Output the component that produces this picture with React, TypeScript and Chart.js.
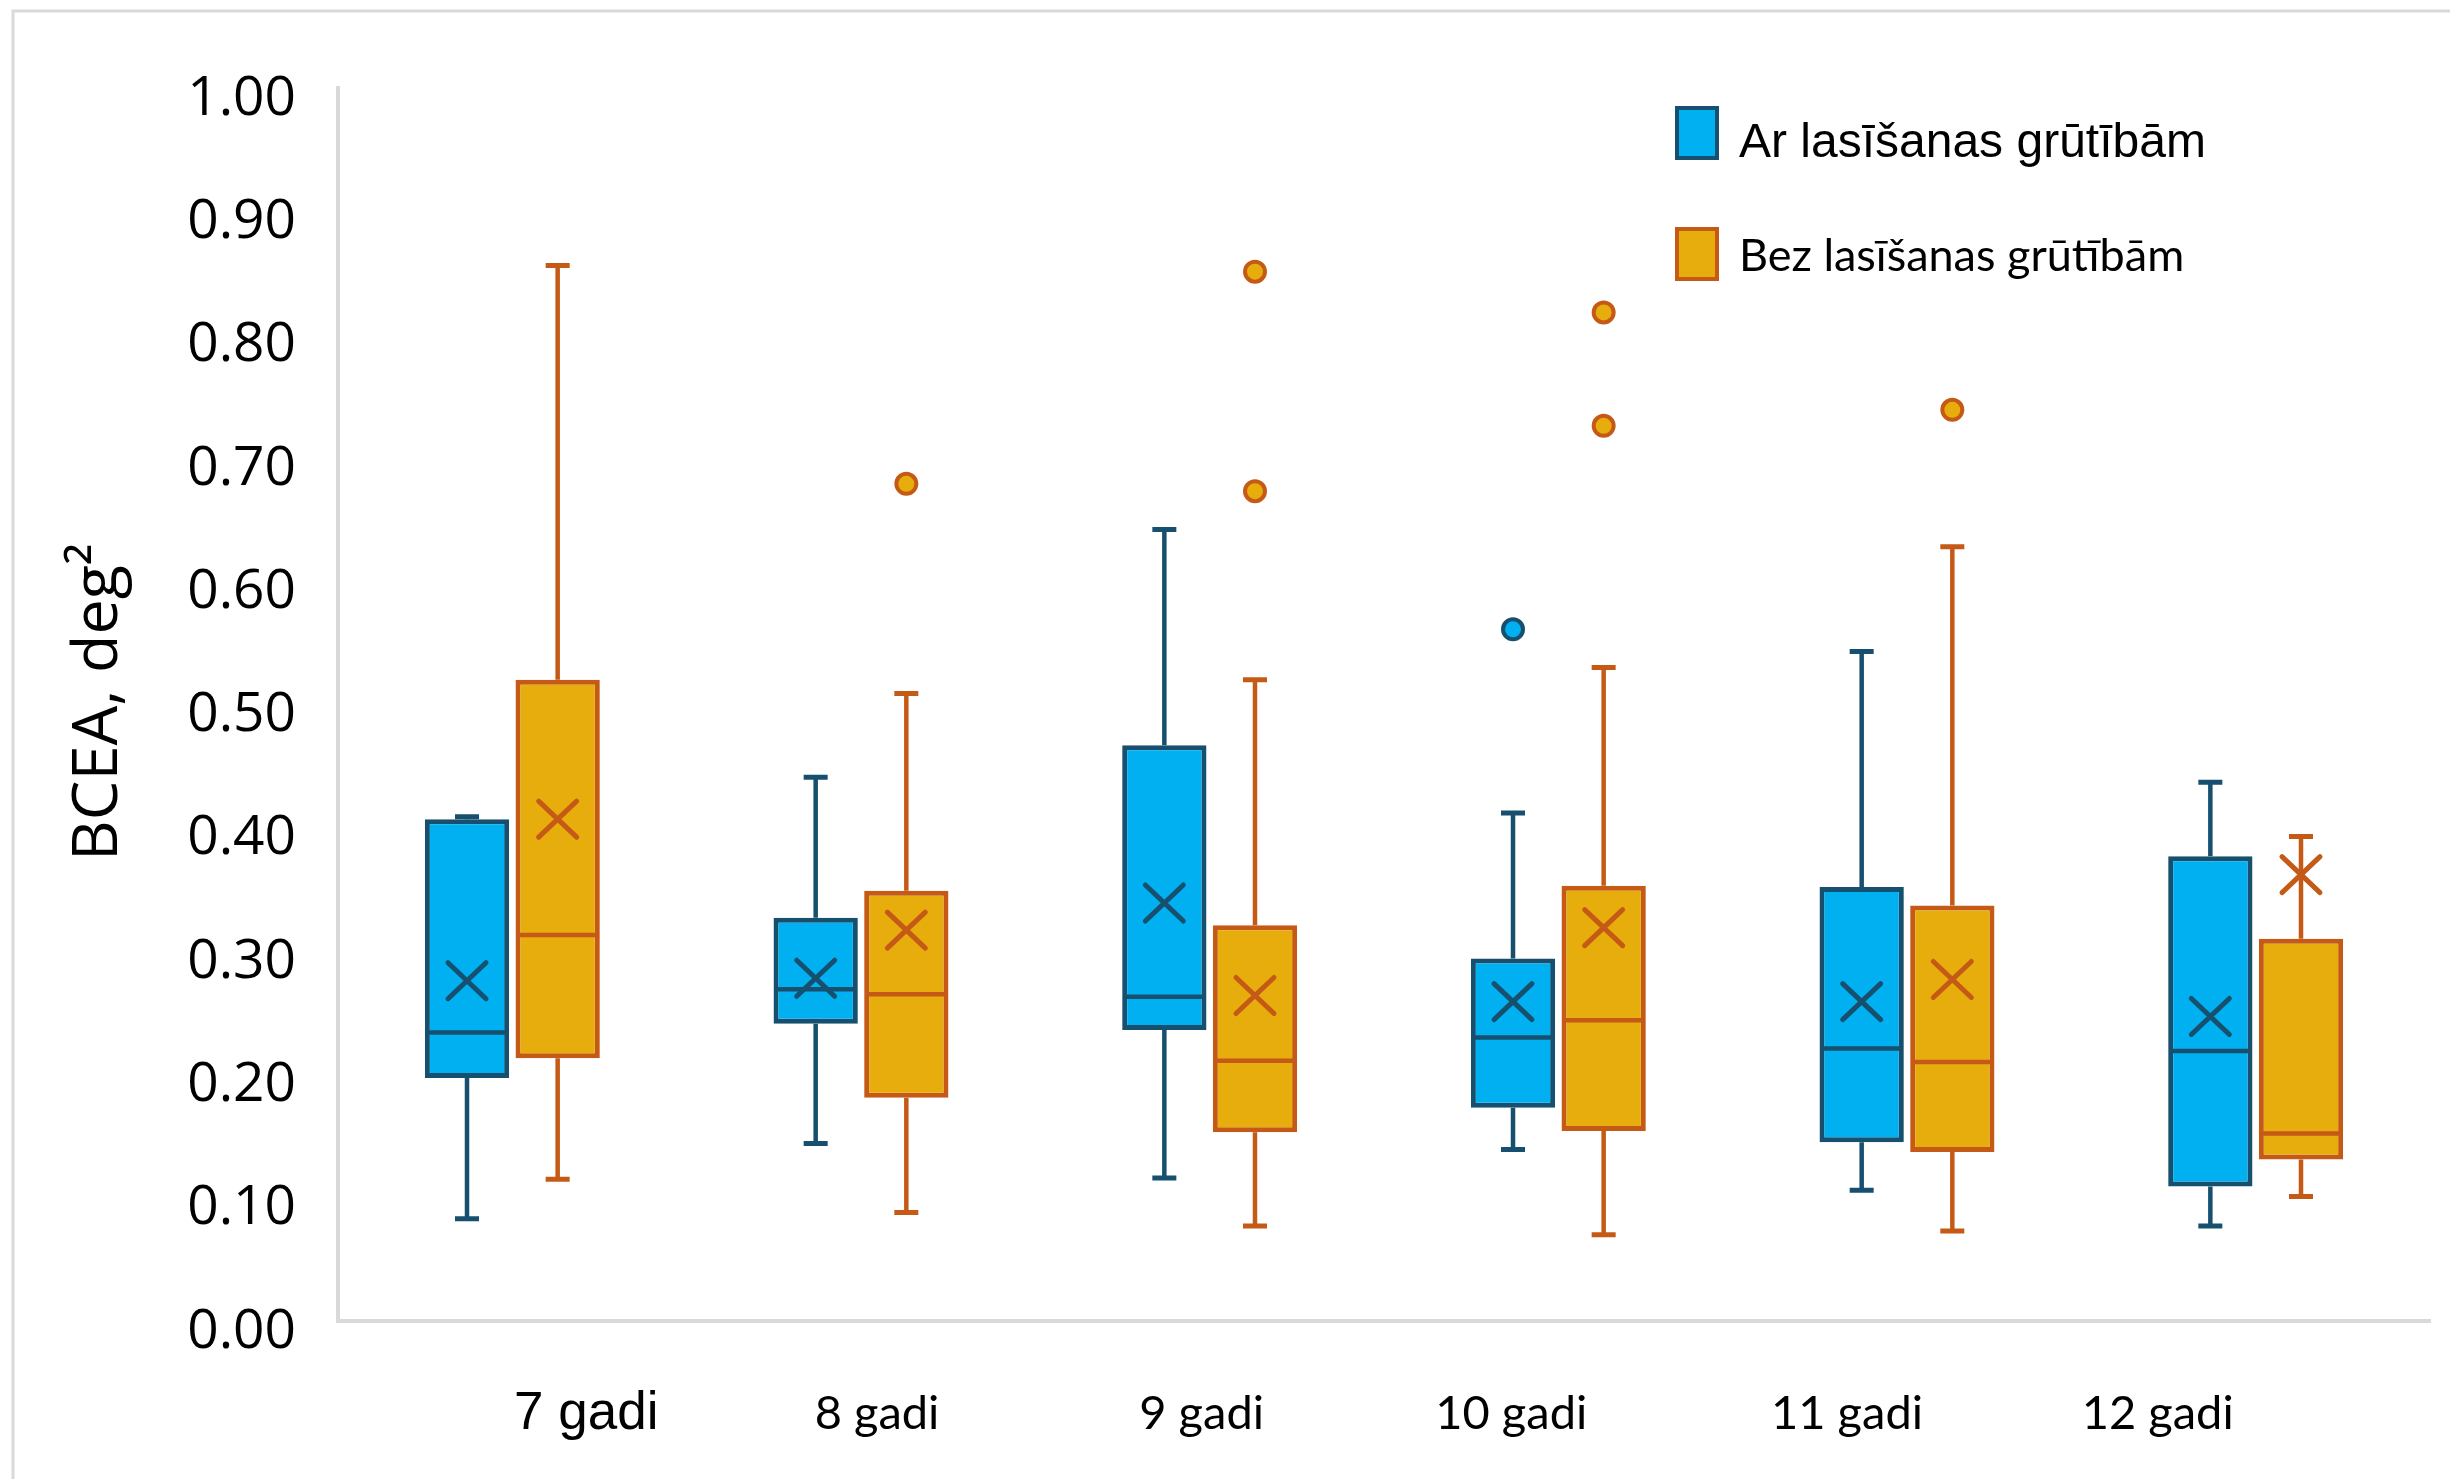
import React, { useEffect, useRef } from "react";
import { Chart, registerables } from "chart.js";

Chart.register(...registerables);

// ---------- data ----------
const categories = ["7 gadi", "8 gadi", "9 gadi", "10 gadi", "11 gadi", "12 gadi"];
const seriesNames = ["Ar lasīšanas grūtībām", "Bez lasīšanas grūtībām"];
const yTicks = [0, 0.1, 0.2, 0.3, 0.4, 0.5, 0.6, 0.7, 0.8, 0.9, 1.0];

const arMin = [0.083, 0.144, 0.116, 0.139, 0.106, 0.077];
const arQ1 = [0.197, 0.241, 0.236, 0.173, 0.145, 0.109];
const arMedian = [0.234, 0.269, 0.263, 0.230, 0.221, 0.219];
const arQ3 = [0.407, 0.327, 0.467, 0.294, 0.352, 0.377];
const arMax = [0.409, 0.441, 0.642, 0.412, 0.543, 0.437];
const arMean = [0.276, 0.278, 0.339, 0.259, 0.259, 0.247];
const arOutliers = [[], [], [], [0.561], [], []];

const bezMin = [0.115, 0.088, 0.077, 0.070, 0.073, 0.101];
const bezQ1 = [0.213, 0.181, 0.153, 0.154, 0.137, 0.131];
const bezMedian = [0.313, 0.265, 0.211, 0.244, 0.210, 0.152];
const bezQ3 = [0.520, 0.349, 0.321, 0.353, 0.337, 0.310];
const bezMax = [0.856, 0.509, 0.520, 0.530, 0.628, 0.393];
const bezMean = [0.407, 0.317, 0.264, 0.319, 0.277, 0.362];
const bezOutliers = [[], [0.679], [0.851, 0.673], [0.818, 0.726], [0.739], []];

// x-label shift (fraction of a category width), as in the original layout
const labelShift = [0.212, 0.046, -0.023, -0.135, -0.172, -0.281];

// ---------- styles ----------
const BLUE_FILL = "#00B0F0";
const BLUE_LINE = "#17506F";
const ORANGE_FILL = "#E6AD0C";
const ORANGE_LINE = "#C55A17";
const AXIS_GRAY = "#d9d9d9";

const groups = [
  { min: arMin, q1: arQ1, med: arMedian, q3: arQ3, max: arMax, mean: arMean, out: arOutliers, fill: BLUE_FILL, line: BLUE_LINE },
  { min: bezMin, q1: bezQ1, med: bezMedian, q3: bezQ3, max: bezMax, mean: bezMean, out: bezOutliers, fill: ORANGE_FILL, line: ORANGE_LINE },
];

const framePlugin = {
  id: "frame",
  beforeDraw(chart: any) {
    const ctx = chart.ctx;
    ctx.save();
    ctx.fillStyle = "#ffffff";
    ctx.fillRect(0, 0, chart.width, chart.height);
    ctx.strokeStyle = AXIS_GRAY;
    ctx.lineWidth = 3;
    ctx.beginPath();
    ctx.moveTo(13, chart.height);
    ctx.lineTo(13, 11);
    ctx.lineTo(chart.width, 11);
    ctx.stroke();
    ctx.restore();
  },
};

const boxPlugin = {
  id: "boxStats",
  afterDatasetsDraw(chart: any) {
    const ctx = chart.ctx;
    const y = chart.scales.y;
    groups.forEach((g, d) => {
      const meta = chart.getDatasetMeta(d);
      meta.data.forEach((bar: any, i: number) => {
        const { x, width } = bar.getProps(["x", "width"], true);
        ctx.save();
        ctx.strokeStyle = g.line;
        ctx.lineWidth = 4.5;
        ctx.lineCap = "butt";
        // whiskers
        ctx.beginPath();
        ctx.moveTo(x, y.getPixelForValue(g.q3[i]));
        ctx.lineTo(x, y.getPixelForValue(g.max[i]));
        ctx.moveTo(x, y.getPixelForValue(g.q1[i]));
        ctx.lineTo(x, y.getPixelForValue(g.min[i]));
        ctx.stroke();
        // caps
        ctx.lineWidth = 5;
        ctx.beginPath();
        ctx.moveTo(x - 12, y.getPixelForValue(g.max[i]));
        ctx.lineTo(x + 12, y.getPixelForValue(g.max[i]));
        ctx.moveTo(x - 12, y.getPixelForValue(g.min[i]));
        ctx.lineTo(x + 12, y.getPixelForValue(g.min[i]));
        ctx.stroke();
        // median
        ctx.lineWidth = 4.5;
        ctx.beginPath();
        ctx.moveTo(x - width / 2 + 2, y.getPixelForValue(g.med[i]));
        ctx.lineTo(x + width / 2 - 2, y.getPixelForValue(g.med[i]));
        ctx.stroke();
        // mean (X)
        const my = y.getPixelForValue(g.mean[i]);
        ctx.lineWidth = 5;
        ctx.lineCap = "round";
        ctx.beginPath();
        ctx.moveTo(x - 19, my - 18);
        ctx.lineTo(x + 19, my + 18);
        ctx.moveTo(x - 19, my + 18);
        ctx.lineTo(x + 19, my - 18);
        ctx.stroke();
        // outliers
        ctx.lineWidth = 4;
        g.out[i].forEach((v: number) => {
          ctx.beginPath();
          ctx.arc(x, y.getPixelForValue(v), 10, 0, Math.PI * 2);
          ctx.fillStyle = g.fill;
          ctx.fill();
          ctx.stroke();
        });
        ctx.restore();
      });
    });
  },
  afterDraw(chart: any) {
    const ctx = chart.ctx;
    const xs = chart.scales.x;
    const ca = chart.chartArea;
    const catW = (ca.right - ca.left) / categories.length;
    ctx.save();
    ctx.fillStyle = "#000";
    ctx.textAlign = "center";
    ctx.textBaseline = "alphabetic";
    categories.forEach((c, i) => {
      ctx.font = i === 0 ? "53px 'Liberation Sans'" : "47px Lato";
      ctx.fillText(c, xs.getPixelForValue(i) + labelShift[i] * catW, ca.bottom + 108);
    });
    // y title
    ctx.save();
    ctx.translate(117, 702);
    ctx.rotate(-Math.PI / 2);
    ctx.font = "63px 'Open Sans'";
    ctx.fillStyle = "#000";
    ctx.textAlign = "center";
    ctx.fillText("BCEA, deg²", 0, 0);
    ctx.restore();
    // legend
    const items = [
      { text: seriesNames[0], fill: BLUE_FILL, line: BLUE_LINE, font: "48px 'Liberation Sans'", y: 106, dy: 51 },
      { text: seriesNames[1], fill: ORANGE_FILL, line: ORANGE_LINE, font: "45px Lato", y: 227, dy: 44 },
    ];
    items.forEach((it) => {
      ctx.fillStyle = it.fill;
      ctx.fillRect(1675, it.y, 44, 54);
      ctx.strokeStyle = it.line;
      ctx.lineWidth = 4;
      ctx.strokeRect(1677, it.y + 2, 40, 50);
      ctx.fillStyle = "#000";
      ctx.font = it.font;
      ctx.textAlign = "left";
      ctx.textBaseline = "alphabetic";
      ctx.fillText(it.text, 1739, it.y + it.dy);
    });
    ctx.restore();
  },
};

export default function App() {
  const ref = useRef<HTMLCanvasElement | null>(null);
  useEffect(() => {
    if (!ref.current) return;
    const chart = new Chart(ref.current, {
      type: "bar",
      data: {
        labels: categories,
        datasets: groups.map((g, d) => ({
          label: seriesNames[d],
          data: categories.map((_, i) => [g.q1[i], g.q3[i]]),
          backgroundColor: g.fill,
          borderColor: g.line,
          borderWidth: 5,
          borderSkipped: false,
          categoryPercentage: 0.52,
          barPercentage: 0.93,
        })),
      },
      options: {
        responsive: false,
        animation: false,
        layout: { padding: { top: 88, right: 20, left: 0, bottom: 0 } },
        plugins: { legend: { display: false }, tooltip: { enabled: false } },
        scales: {
          x: {
            type: "category",
            grid: { display: false },
            border: { display: true, color: AXIS_GRAY, width: 4 },
            ticks: { display: false },
            afterFit: (s: any) => { s.height = 158; },
          },
          y: {
            min: 0,
            max: 1,
            stacked: false,
            grid: { display: false },
            border: { display: true, color: AXIS_GRAY, width: 4 },
            afterBuildTicks: (s: any) => { s.ticks = yTicks.map((v) => ({ value: v })); },
            ticks: {
              padding: 34,
              labelOffset: 11,
              color: "#000",
              font: { family: "'Open Sans'", size: 55 },
              callback: (v: any) => Number(v).toFixed(2),
            },
            afterFit: (s: any) => { s.width = 338; },
          },
        },
      },
      plugins: [framePlugin, boxPlugin],
    } as any);
    return () => chart.destroy();
  }, []);
  return (
    <div style={{ position: "absolute", left: 0, top: 0, width: 2450, height: 1479 }}>
      <canvas ref={ref} width={2450} height={1479} style={{ display: "block" }} />
    </div>
  );
}
